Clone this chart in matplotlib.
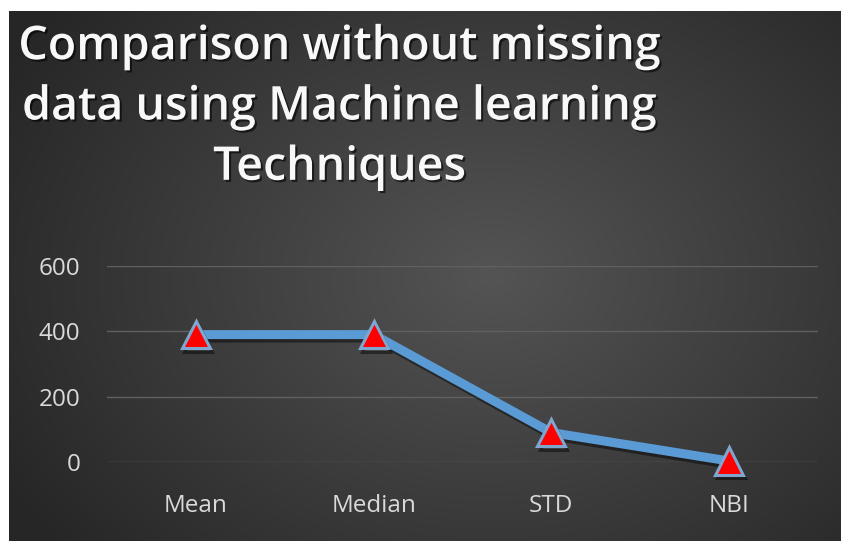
import numpy as np
import matplotlib
matplotlib.use("Agg")
import matplotlib.pyplot as plt
import matplotlib.patheffects as pe

categories = ["Mean", "Median", "STD", "NBI"]
values = [390, 390, 90, 3]
yticks = [0, 200, 400, 600]
title = "Comparison without missing\ndata using Machine learning\nTechniques"

W, H = 841, 541
fig = plt.figure(figsize=(W / 100, H / 100), dpi=100)
fig.patch.set_facecolor("white")

# background gradient panel
bg = fig.add_axes([9 / W, 0, (840 - 9) / W, (541 - 11) / H])
yy, xx = np.mgrid[0:1:300j, 0:1:400j]
r = np.sqrt(((xx - 0.58) / 0.75) ** 2 + ((yy - 0.5) / 0.9) ** 2)
g = np.clip(0.33 - 0.2 * r, 0.15, 0.33)
img = np.dstack([g, g, g])
bg.imshow(img, aspect="auto", extent=[0, 1, 0, 1], origin="lower")
bg.set_axis_off()

fam = ["Open Sans", "DejaVu Sans"]

# plot axes
x0, x1 = 107, 818
ytop, ybot = 266, 462
ax = fig.add_axes([x0 / W, 1 - ybot / H, (x1 - x0) / W, (ybot - ytop) / H])
ax.set_facecolor("none")
xs = np.arange(len(categories)) + 0.5
ax.set_xlim(0, len(categories))
ax.set_ylim(0, 600)
ax.set_yticks(yticks)
ax.set_xticks(xs)
ax.set_xticklabels(categories)
for s in ax.spines.values():
    s.set_visible(False)
ax.grid(axis="y", color="#606060", linewidth=1)
ax.set_axisbelow(True)
ax.tick_params(length=0, colors="#d9d9d9", labelsize=17.5)
ax.tick_params(axis="y", pad=19)
ax.tick_params(axis="x", pad=23)
for lab in ax.get_xticklabels() + ax.get_yticklabels():
    lab.set_fontfamily(fam)

ax.plot(xs, values, color="#5b9bd5", linewidth=6.5, solid_joinstyle="miter",
        marker="^", markersize=20, markerfacecolor="#ff0000",
        markeredgecolor="#7fa6cf", markeredgewidth=2.2, clip_on=False,
        path_effects=[pe.SimpleLineShadow(offset=(1.5, -2.5), shadow_color="black", alpha=0.45),
                      pe.Normal()])

fig.text(340 / W, 1 - 107 / H, title, ha="center", va="center",
         fontsize=33.5, fontweight="semibold", color="#f8f8f8", fontfamily=fam,
         linespacing=1.37,
         path_effects=[pe.withSimplePatchShadow(offset=(1.5, -1.5), shadow_rgbFace="black", alpha=0.6)])

fig.savefig("out.png", dpi=100, facecolor="white")
